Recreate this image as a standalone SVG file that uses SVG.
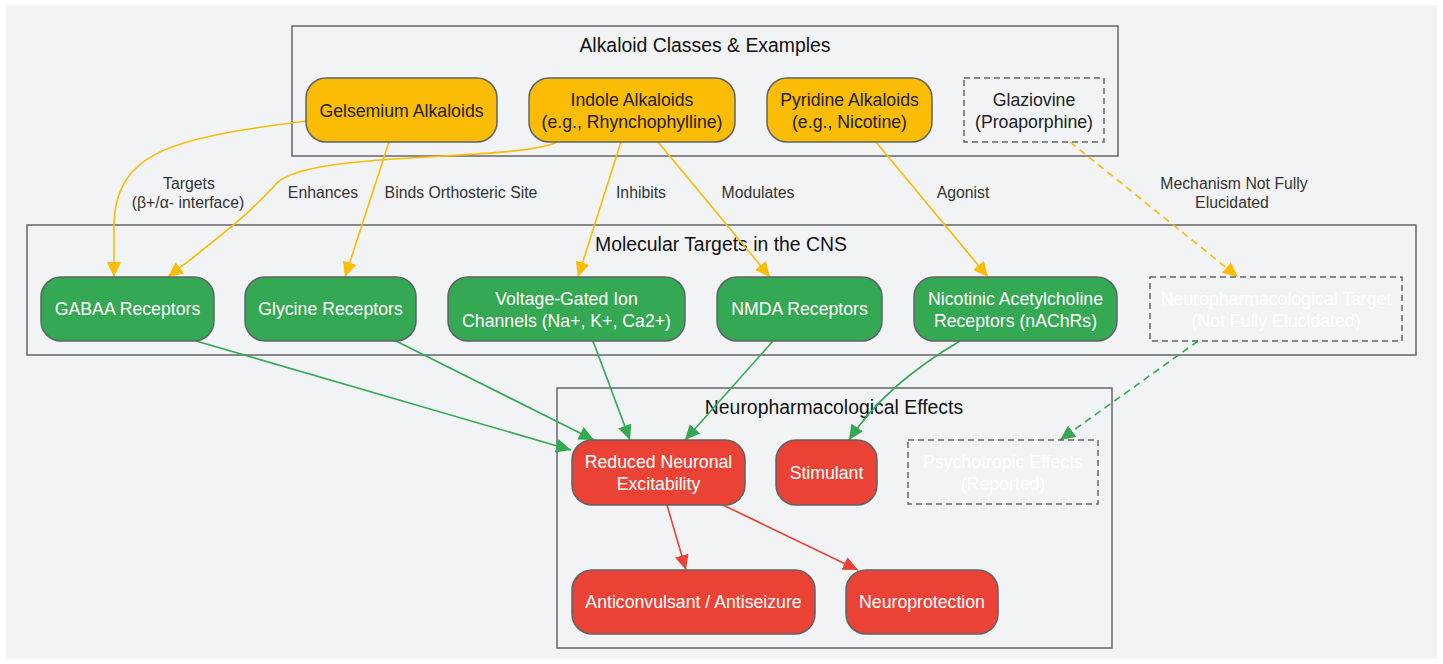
<svg xmlns="http://www.w3.org/2000/svg" width="1443" height="664" viewBox="0 0 1443 664">
<style>
text{font-family:"Liberation Sans",Arial,sans-serif;text-anchor:middle}
.cl{fill:none;stroke:#666;stroke-width:1.5}
.ct{font-size:19.4px;fill:#111}
.n{stroke:#5f6368;stroke-width:1.5}
.y{fill:#fbbc05}
.g{fill:#34a853}
.r{fill:#ea4335}
.d{fill:none;stroke:#666;stroke-width:1.5;stroke-dasharray:6,4}
.tk{font-size:17.7px;fill:#222}
.tw{font-size:17.7px;fill:#fff}
.el{font-size:15.8px;fill:#333}
.ey{fill:none;stroke:#fbbc05;stroke-width:1.6}
.eg{fill:none;stroke:#34a853;stroke-width:1.6}
.er{fill:none;stroke:#ea4335;stroke-width:1.6}
.dash{stroke-dasharray:7,5}
</style>
<defs>
<marker id="ay" markerWidth="16" markerHeight="14" refX="15" refY="7" orient="auto" markerUnits="userSpaceOnUse"><path d="M0,0 L15,7 L0,14 Z" fill="#fbbc05"/></marker>
<marker id="ag" markerWidth="16" markerHeight="14" refX="15" refY="7" orient="auto" markerUnits="userSpaceOnUse"><path d="M0,0 L15,7 L0,14 Z" fill="#34a853"/></marker>
<marker id="ar" markerWidth="16" markerHeight="14" refX="15" refY="7" orient="auto" markerUnits="userSpaceOnUse"><path d="M0,0 L15,7 L0,14 Z" fill="#ea4335"/></marker>
</defs>
<rect x="0" y="0" width="1443" height="664" fill="#fff"/>
<rect x="6" y="5" width="1431" height="654" fill="#f1f3f4"/>

<g id="clusters">
<g id="cluster-alkaloids"><rect class="cl" x="292" y="26" width="826" height="130"/><text class="ct" x="705" y="52">Alkaloid Classes &amp; Examples</text></g>
<g id="cluster-targets"><rect class="cl" x="27" y="225" width="1389" height="130"/><text class="ct" x="721" y="251">Molecular Targets in the CNS</text></g>
<g id="cluster-effects"><rect class="cl" x="557" y="388" width="555" height="260"/><text class="ct" x="834" y="414">Neuropharmacological Effects</text></g>
</g>

<g id="connectors">
<path class="ey" d="M306,121 C175,138 114,150 114,228 L114,277" marker-end="url(#ay)"/>
<path class="ey" d="M557,142 C515,162 315,150 278,182 C256,205 252,212 168,277" marker-end="url(#ay)"/>
<path class="ey" d="M389,142 L345,277" marker-end="url(#ay)"/>
<path class="ey" d="M621,142 L578,277" marker-end="url(#ay)"/>
<path class="ey" d="M658,142 L770,277" marker-end="url(#ay)"/>
<path class="ey" d="M876,142 L988,277" marker-end="url(#ay)"/>
<path class="ey dash" d="M1070,142 L1238,277" marker-end="url(#ay)"/>
<text class="el" x="189" y="189">Targets</text>
<text class="el" x="188" y="208">(β+/α- interface)</text>
<text class="el" x="323" y="198">Enhances</text>
<text class="el" x="461" y="198">Binds Orthosteric Site</text>
<text class="el" x="641" y="198">Inhibits</text>
<text class="el" x="758" y="198">Modulates</text>
<text class="el" x="963" y="198">Agonist</text>
<text class="el" x="1234" y="189">Mechanism Not Fully</text>
<text class="el" x="1232" y="208">Elucidated</text>

<path class="eg" d="M196,341 L571,450" marker-end="url(#ag)"/>
<path class="eg" d="M396,341 L594,440" marker-end="url(#ag)"/>
<path class="eg" d="M593,341 L630,440" marker-end="url(#ag)"/>
<path class="eg" d="M773,341 L685,440" marker-end="url(#ag)"/>
<path class="eg" d="M960,341 Q885,385 849,440" marker-end="url(#ag)"/>
<path class="eg dash" d="M1198,341 L1060,440" marker-end="url(#ag)"/>

<path class="er" d="M667,505 L686,570" marker-end="url(#ar)"/>
<path class="er" d="M723,505 L858,570" marker-end="url(#ar)"/>
</g>

<g id="n-gelsemium"><rect class="n y" x="306" y="78" width="191" height="64" rx="20"/><text class="tk" x="401.5" y="117">Gelsemium Alkaloids</text></g>
<g id="n-indole"><rect class="n y" x="529" y="78" width="206" height="64" rx="20"/><text class="tk" x="632" y="106">Indole Alkaloids</text><text class="tk" x="632" y="128">(e.g., Rhynchophylline)</text></g>
<g id="n-pyridine"><rect class="n y" x="767" y="78" width="165" height="64" rx="20"/><text class="tk" x="849.5" y="106">Pyridine Alkaloids</text><text class="tk" x="849.5" y="128">(e.g., Nicotine)</text></g>
<g id="n-glaziovine"><rect class="d" x="964" y="78" width="140" height="64"/><text class="tk" x="1034" y="106">Glaziovine</text><text class="tk" x="1034" y="128">(Proaporphine)</text></g>

<g id="n-gabaa"><rect class="n g" x="41" y="277" width="173" height="64" rx="20"/><text class="tw" x="127.5" y="315">GABAA Receptors</text></g>
<g id="n-glycine"><rect class="n g" x="245" y="277" width="171" height="64" rx="20"/><text class="tw" x="330.5" y="315">Glycine Receptors</text></g>
<g id="n-vgic"><rect class="n g" x="448" y="277" width="237" height="64" rx="20"/><text class="tw" x="566.5" y="305">Voltage-Gated Ion</text><text class="tw" x="566.5" y="327">Channels (Na+, K+, Ca2+)</text></g>
<g id="n-nmda"><rect class="n g" x="717" y="277" width="165" height="64" rx="20"/><text class="tw" x="799.5" y="315">NMDA Receptors</text></g>
<g id="n-nachr"><rect class="n g" x="914" y="277" width="203" height="64" rx="20"/><text class="tw" x="1015.5" y="305">Nicotinic Acetylcholine</text><text class="tw" x="1015.5" y="327">Receptors (nAChRs)</text></g>
<g id="n-unknown-target"><rect class="d" x="1150" y="277" width="252" height="64"/><text class="tw" x="1276" y="305">Neuropharmacological Target</text><text class="tw" x="1276" y="327">(Not Fully Elucidated)</text></g>

<g id="n-reduced"><rect class="n r" x="572" y="440" width="173" height="65" rx="20"/><text class="tw" x="658.5" y="468">Reduced Neuronal</text><text class="tw" x="658.5" y="490">Excitability</text></g>
<g id="n-stimulant"><rect class="n r" x="776" y="440" width="101" height="65" rx="20"/><text class="tw" x="826.5" y="479">Stimulant</text></g>
<g id="n-psychotropic"><rect class="d" x="908" y="440" width="190" height="64"/><text class="tw" x="1003" y="468">Psychotropic Effects</text><text class="tw" x="1003" y="490">(Reported)</text></g>
<g id="n-anticonvulsant"><rect class="n r" x="572" y="570" width="243" height="64" rx="20"/><text class="tw" x="693.5" y="608">Anticonvulsant / Antiseizure</text></g>
<g id="n-neuroprotection"><rect class="n r" x="846" y="570" width="152" height="64" rx="20"/><text class="tw" x="922" y="608">Neuroprotection</text></g>
</svg>
